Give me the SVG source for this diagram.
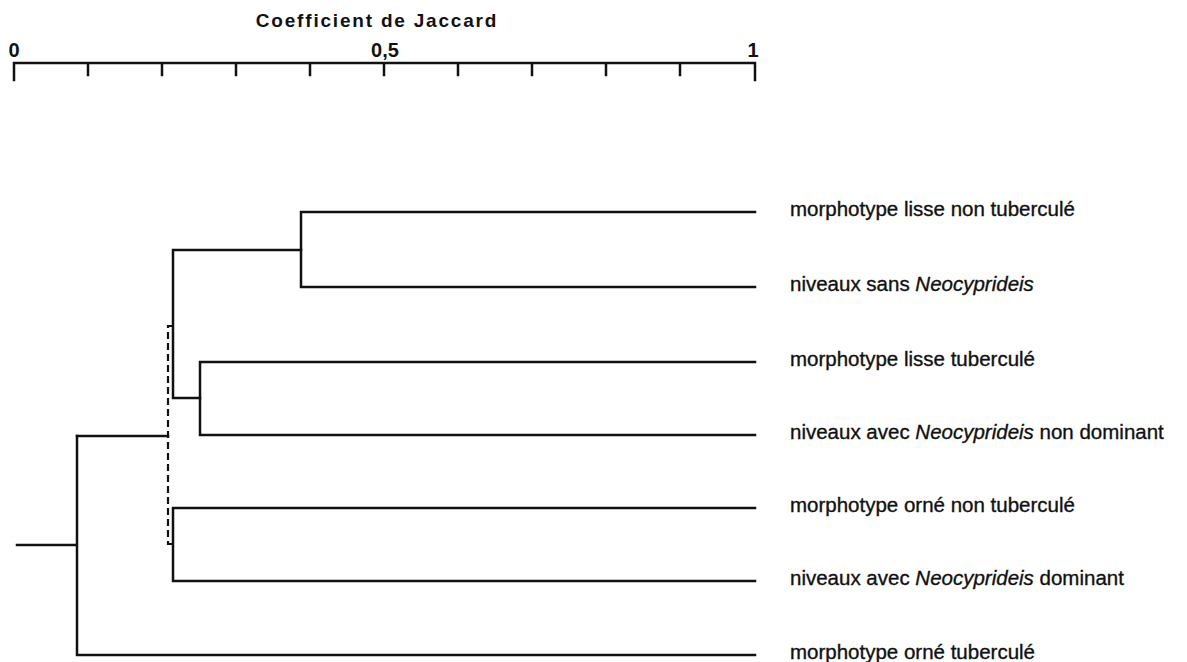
<svg xmlns="http://www.w3.org/2000/svg" width="1187" height="662" viewBox="0 0 1187 662">
<style>
.ln{fill:none;stroke:#111;stroke-width:2.5;stroke-linecap:square}
.dash{fill:none;stroke:#111;stroke-width:2.2;stroke-dasharray:7 4}
.ax{font-family:"Liberation Sans",Arial,sans-serif;font-weight:bold;fill:#111}
.lab{font-family:"Liberation Sans",Arial,sans-serif;font-size:20.5px;fill:#111;stroke:#111;stroke-width:0.35}
.it{font-style:italic}
</style>
<rect width="1187" height="662" fill="#fff"/>
<g id="axis">
<text class="ax" x="377" y="27" font-size="19" letter-spacing="1.8" text-anchor="middle">Coefficient de Jaccard</text>
<text class="ax" x="14" y="57" font-size="20" text-anchor="middle">0</text>
<text class="ax" x="385" y="57" font-size="20" text-anchor="middle">0,5</text>
<text class="ax" x="753" y="57" font-size="20" text-anchor="middle">1</text>
<path class="ln" d="M14,63 H755 M14,63 V80 M755,63 V80 M88,63 V75 M162,63 V75 M236,63 V75 M310,63 V75 M384,63 V75 M458,63 V75 M532,63 V75 M606,63 V75 M680,63 V75"/>
</g>
<g id="connectors">
<path class="ln" d="M301,212 H755 M301,287 H755 M301,212 V287"/>
<path class="ln" d="M200,362 H755 M200,435 H755 M200,362 V435"/>
<path class="ln" d="M173,250 H301 M173,250 V398 H200"/>
<path class="ln" d="M173,508 H755 M173,581 H755 M173,508 V581"/>
<path class="dash" d="M173,326 H168 V544 H173"/>
<path class="ln" d="M77,436 H168"/>
<path class="ln" d="M77,436 V655 H755 M17,545 H77"/>
</g>
<g id="leaf1"><text class="lab" x="790" y="216">morphotype lisse non tuberculé</text></g>
<g id="leaf2"><text class="lab" x="790" y="291">niveaux sans <tspan class="it">Neocyprideis</tspan></text></g>
<g id="leaf3"><text class="lab" x="790" y="366">morphotype lisse tuberculé</text></g>
<g id="leaf4"><text class="lab" x="790" y="439">niveaux avec <tspan class="it">Neocyprideis</tspan> non dominant</text></g>
<g id="leaf5"><text class="lab" x="790" y="512">morphotype orné non tuberculé</text></g>
<g id="leaf6"><text class="lab" x="790" y="585">niveaux avec <tspan class="it">Neocyprideis</tspan> dominant</text></g>
<g id="leaf7"><text class="lab" x="790" y="659">morphotype orné tuberculé</text></g>
</svg>
